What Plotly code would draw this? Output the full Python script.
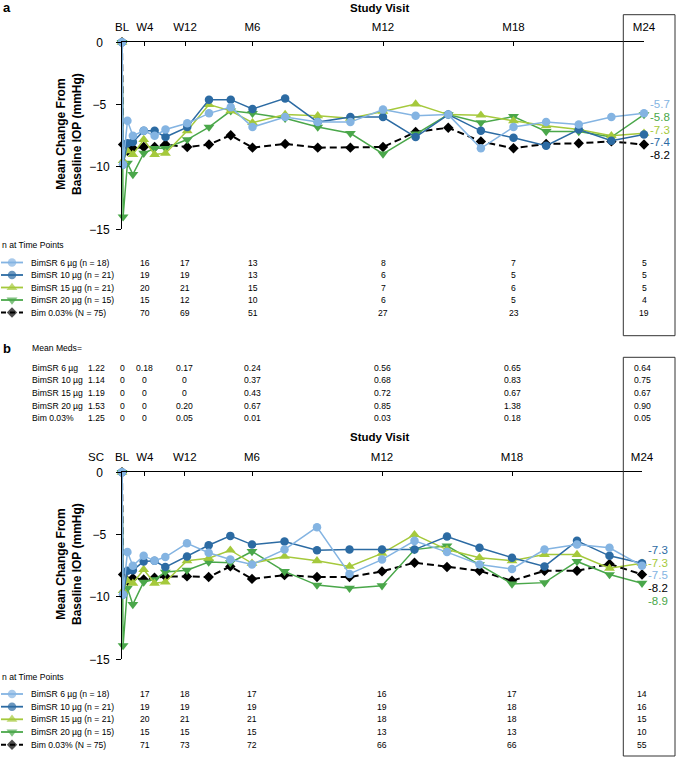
import plotly.graph_objects as go

W, H = 677, 759
FONT = "Liberation Sans, Arial, Helvetica, sans-serif"

# ---------------- data ----------------
# visit positions in months: BL, Day2, W1, W2, W4, W6, W8, W12, W16, W20, M6, M7.5 ... M24
VISIT_MONTHS = [0, 0.05, 0.25, 0.5, 1, 1.5, 2, 3, 4, 5, 6, 7.5, 9, 10.5, 12,
                13.5, 15, 16.5, 18, 19.5, 21, 22.5, 24]

TICK_LABELS = ["BL", "W4", "W12", "M6", "M12", "M18", "M24"]
TICK_MONTHS = [0, 1.05, 2.9, 6, 12, 18, 24]

GROUP_NAMES = ["BimSR 6 µg", "BimSR 10 µg", "BimSR 15 µg", "BimSR 20 µg", "Bim 0.03%"]
GROUP_SIZES = ["(n = 18)", "(n = 21)", "(n = 21)", "(n = 15)", "(N = 75)"]

# Panel a: mean change from baseline IOP (mmHg)
A_BIMSR6 = [0, -9.8, -6.3, -7.5, -7.1, -7.5, -7.0, -6.5, -5.7, -5.2, -6.8, -6.0, -6.4,
            -6.4, -5.4, -5.9, -5.8, -8.5, -6.8, -6.4, -6.6, -6.0, -5.7]
A_BIMSR10 = [0, -9.8, -8.1, -8.0, -7.1, -7.1, -7.6, -6.8, -4.6, -4.6, -5.35, -4.5, -6.4,
             -6.0, -6.0, -7.6, -5.8, -7.1, -7.65, -8.3, -7.0, -7.9, -7.4]
A_BIMSR15 = [0, -9.5, -8.7, -9.0, -7.8, -9.0, -8.9, -7.1, -5.0, -5.5, -6.45, -5.8, -5.9,
             -6.1, -5.55, -4.95, -5.8, -5.85, -6.3, -6.7, -7.0, -7.5, -7.3]
A_BIMSR20 = [0, -14.0, -9.7, -10.6, -8.9, -8.5, -8.5, -7.8, -6.8, -5.5, -5.7, -6.1, -6.8,
             -7.3, -8.95, -7.35, -5.8, -6.45, -5.95, -7.15, -7.15, -7.6, -5.8]
A_BIM = [0, -8.2, -8.7, -8.5, -8.4, -8.4, -8.2, -8.4, -8.2, -7.45, -8.45, -8.15, -8.45,
         -8.45, -8.4, -7.2, -6.85, -7.95, -8.5, -8.15, -8.1, -7.95, -8.2]

# Panel b
B_BIMSR6 = [0, -9.8, -6.4, -7.5, -6.7, -7.1, -6.8, -5.7, -6.45, -7.0, -7.4, -6.2, -4.4,
            -8.15, -7.0, -5.5, -6.4, -7.4, -7.75, -6.2, -5.8, -6.05, -7.5]
B_BIMSR10 = [0, -9.8, -7.9, -7.85, -7.15, -7.1, -7.6, -6.75, -5.85, -5.1, -5.8, -5.55, -6.25,
             -6.2, -6.2, -6.2, -5.15, -6.05, -6.85, -7.55, -5.5, -6.7, -7.3]
B_BIMSR15 = [0, -9.5, -8.7, -8.9, -7.8, -8.9, -8.8, -7.1, -6.9, -6.25, -7.3, -6.75, -7.1,
             -7.55, -6.5, -5.0, -6.2, -6.85, -7.1, -6.6, -6.6, -7.7, -7.3]
B_BIMSR20 = [0, -13.9, -9.3, -10.6, -8.8, -8.6, -8.0, -7.85, -7.2, -7.25, -6.35, -7.95, -9.05,
             -9.3, -9.1, -6.2, -5.9, -7.4, -8.95, -8.85, -7.15, -8.2, -8.9]
B_BIM = [0, -8.2, -8.7, -8.5, -8.6, -8.45, -8.35, -8.35, -8.4, -7.55, -8.55, -8.25, -8.4,
         -8.4, -7.95, -7.25, -7.6, -7.9, -8.7, -7.9, -7.9, -7.35, -8.2]

# n at time points (columns W4, W12, M6, M12, M18, M24)
N_A = [[16, 17, 13, 8, 7, 5],
       [19, 19, 13, 6, 5, 5],
       [20, 21, 15, 7, 6, 5],
       [15, 12, 10, 6, 5, 4],
       [70, 69, 51, 27, 23, 19]]
N_B = [[17, 18, 17, 16, 17, 14],
       [19, 19, 19, 19, 18, 16],
       [20, 21, 21, 18, 18, 15],
       [15, 15, 15, 13, 13, 10],
       [71, 73, 72, 66, 66, 55]]

# Mean meds (columns SC, BL, W4, W12, M6, M12, M18, M24)
MEDS_COL_LABELS = ["SC", "BL", "W4", "W12", "M6", "M12", "M18", "M24"]
MEDS_COL_MONTHS = [-1.2, 0, 1.05, 2.9, 6, 12, 18, 24]
MEDS = [[1.22, 0, 0.18, 0.17, 0.24, 0.56, 0.65, 0.64],
        [1.14, 0, 0, 0, 0.37, 0.68, 0.83, 0.75],
        [1.19, 0, 0, 0, 0.43, 0.72, 0.67, 0.67],
        [1.53, 0, 0, 0.20, 0.67, 0.85, 1.38, 0.90],
        [1.25, 0, 0, 0.05, 0.01, 0.03, 0.18, 0.05]]

# ---------------- styles ----------------
LB, DB, LG, G, BK = "#84b4e2", "#2c6ba3", "#a5c93c", "#4aa74a", "#000000"
COLORS = [LB, DB, LG, G, BK]
SYMBOLS = ["circle", "circle", "triangle-up", "triangle-down", "diamond"]
MSIZE = [8.5, 8.5, 9.5, 9.5, 8]
DRAW_ORDER = [4, 3, 2, 1, 0]

A_SERIES = [A_BIMSR6, A_BIMSR10, A_BIMSR15, A_BIMSR20, A_BIM]
B_SERIES = [B_BIMSR6, B_BIMSR10, B_BIMSR15, B_BIMSR20, B_BIM]

# pixel geometry of the two plot areas
A_X0, A_X1 = 122, 644
B_X0, B_X1 = 122, 642

def yp(py):
    return 1 - py / H

def xp(px):
    return px / W

def month_to_paper_b(m):
    return xp(B_X0 + (m / 24.0) * (B_X1 - B_X0))

fig = go.Figure()

for series, xa, ya in [(A_SERIES, "x", "y"), (B_SERIES, "x2", "y2")]:
    for i in DRAW_ORDER:
        fig.add_trace(go.Scatter(
            x=VISIT_MONTHS, y=series[i], xaxis=xa, yaxis=ya,
            mode="lines+markers", cliponaxis=False, showlegend=False,
            line=dict(color=COLORS[i], width=2 if i == 4 else 1.5,
                      dash="7px,4px" if i == 4 else "solid"),
            marker=dict(color=COLORS[i], symbol=SYMBOLS[i], size=MSIZE[i], line=dict(width=0)),
        ))

# legend swatches (pixel overlay axis)
SWATCH_ROWS = {"a": [262.5, 275, 287.5, 300, 312.5], "b": [694, 706.7, 719.3, 732, 744.7]}
for key, rows in SWATCH_ROWS.items():
    for i, ry in enumerate(rows):
        fig.add_trace(go.Scatter(
            x=[1, 12, 23], y=[ry, ry, ry], xaxis="x3", yaxis="y3",
            mode="lines+markers", cliponaxis=False, showlegend=False, hoverinfo="skip",
            line=dict(color=COLORS[i], width=2 if i == 4 else 1.8,
                      dash="5px,4px" if i == 4 else "solid"),
            marker=dict(color=COLORS[i], symbol=SYMBOLS[i], size=[0, MSIZE[i], 0], line=dict(width=0)),
        ))

ann = []
def text(x, y, s, size=8.6, color="black", xanchor="left", xref="paper", bold=False, **kw):
    ann.append(dict(x=x, y=y, xref=xref, yref="paper", text=s, showarrow=False,
                    xanchor=xanchor, yanchor="middle",
                    font=dict(family=FONT, size=size, color=color,
                              weight="bold" if bold else "normal"), **kw))

# panel labels and titles
text(xp(1), yp(8), "a", size=13, bold=True)
text(xp(1), yp(348), "b", size=13, bold=True)
text(xp(380), yp(7.5), "Study Visit", size=11.5, bold=True, xanchor="center")
text(xp(380), yp(436.7), "Study Visit", size=11.5, bold=True, xanchor="center")
text(month_to_paper_b(MEDS_COL_MONTHS[0]), yp(456.7), MEDS_COL_LABELS[0], size=11.5, xanchor="center")
for cy in (134, 564):
    ann.append(dict(x=xp(69), y=yp(cy), xref="paper", yref="paper",
                    text="Mean Change From<br>Baseline IOP (mmHg)", showarrow=False,
                    textangle=-90, xanchor="center", yanchor="middle",
                    font=dict(family=FONT, size=12, weight="bold", color="black")))

# n tables
for key, ntab, xref, title_y in [("a", N_A, "x", 245), ("b", N_B, "x2", 677.3)]:
    text(xp(0), yp(title_y), "n at Time Points")
    for i, ry in enumerate(SWATCH_ROWS[key]):
        text(xp(29), yp(ry), f"{GROUP_NAMES[i]} {GROUP_SIZES[i]}")
        for cx, v in zip(TICK_MONTHS[1:], ntab[i]):
            text(cx, yp(ry), str(v), xanchor="center", xref=xref)

# mean meds table (columns positioned on panel b's month scale)
text(xp(30), yp(347.7), "Mean Meds=")
MEDS_ROWS = [367.7, 380.3, 393, 405.7, 418.3]
for i, ry in enumerate(MEDS_ROWS):
    text(xp(30), yp(ry), GROUP_NAMES[i])
    for cm, v in zip(MEDS_COL_MONTHS, MEDS[i]):
        text(month_to_paper_b(cm), yp(ry), "0" if v == 0 else f"{v:.2f}", xanchor="center")

# end-point value labels
END_A = {0: 104.3, 3: 117, 2: 129.7, 1: 142.4, 4: 155.1}
END_B = {1: 550, 2: 562.7, 0: 575.4, 4: 588.1, 3: 600.8}
for series, ends, xref in [(A_SERIES, END_A, "x"), (B_SERIES, END_B, "x2")]:
    for i, py in ends.items():
        text(24, yp(py), f"{series[i][-1]:.1f}", size=11.5, color=COLORS[i], xref=xref,
             xshift=5, borderpad=0)

shapes = [
    dict(type="rect", xref="paper", yref="paper", x0=xp(623.3), x1=xp(675), y0=yp(14.7), y1=yp(335.7),
         line=dict(color="#333333", width=1)),
    dict(type="rect", xref="paper", yref="paper", x0=xp(623.3), x1=xp(675), y0=yp(357.3), y1=yp(756),
         line=dict(color="#333333", width=1)),
]

xcommon = dict(range=[0, 24], side="top", showline=True, linecolor="black", linewidth=1,
               ticks="inside", ticklen=4, tickcolor="black", tickwidth=1,
               tickvals=TICK_MONTHS, ticktext=TICK_LABELS, showgrid=False, zeroline=False,
               tickfont=dict(family=FONT, size=11.5, color="black"), ticklabelstandoff=6,
               automargin=False)
ycommon = dict(range=[-15, 0], showline=True, linecolor="black", linewidth=1,
               ticks="outside", ticklen=5, tickcolor="black", tickwidth=1,
               tickvals=[0, -5, -10, -15],
               ticktext=["0\u00a0\u00a0", "\u22125\u00a0", "\u221210", "\u221215"],
               showgrid=False, zeroline=False,
               tickfont=dict(family=FONT, size=12, color="black"), ticklabelstandoff=4,
               automargin=False)

fig.update_layout(
    width=W, height=H, margin=dict(l=0, r=0, t=0, b=0, autoexpand=False),
    paper_bgcolor="white", plot_bgcolor="rgba(0,0,0,0)",
    xaxis=dict(domain=[xp(A_X0), xp(A_X1)], anchor="y", **xcommon),
    yaxis=dict(domain=[yp(229.3), yp(42.3)], anchor="x", **ycommon),
    xaxis2=dict(domain=[xp(B_X0), xp(B_X1)], anchor="y2", **xcommon),
    yaxis2=dict(domain=[yp(659.3), yp(472.3)], anchor="x2", **ycommon),
    xaxis3=dict(domain=[0, 1], range=[0, W], visible=False, anchor="y3", automargin=False),
    yaxis3=dict(domain=[0, 1], range=[H, 0], visible=False, anchor="x3", automargin=False),
    annotations=ann, shapes=shapes, showlegend=False,
)

fig.write_html("out.html", config={"displayModeBar": False},
               post_script="document.body.style.margin='0';")
